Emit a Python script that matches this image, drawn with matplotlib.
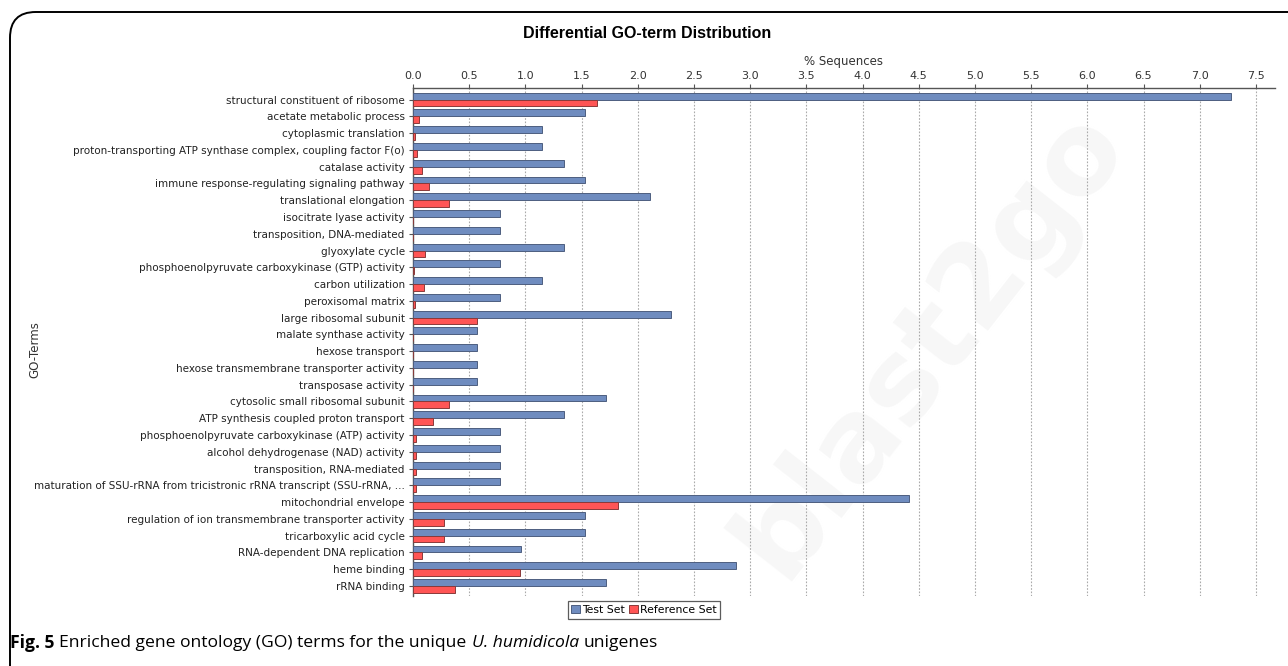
import matplotlib.pyplot as plt
import numpy as np
from matplotlib.patches import FancyBboxPatch

# GO terms, top to bottom
terms = [
    "structural constituent of ribosome",
    "acetate metabolic process",
    "cytoplasmic translation",
    "proton-transporting ATP synthase complex, coupling factor F(o)",
    "catalase activity",
    "immune response-regulating signaling pathway",
    "translational elongation",
    "isocitrate lyase activity",
    "transposition, DNA-mediated",
    "glyoxylate cycle",
    "phosphoenolpyruvate carboxykinase (GTP) activity",
    "carbon utilization",
    "peroxisomal matrix",
    "large ribosomal subunit",
    "malate synthase activity",
    "hexose transport",
    "hexose transmembrane transporter activity",
    "transposase activity",
    "cytosolic small ribosomal subunit",
    "ATP synthesis coupled proton transport",
    "phosphoenolpyruvate carboxykinase (ATP) activity",
    "alcohol dehydrogenase (NAD) activity",
    "transposition, RNA-mediated",
    "maturation of SSU-rRNA from tricistronic rRNA transcript (SSU-rRNA, ...",
    "mitochondrial envelope",
    "regulation of ion transmembrane transporter activity",
    "tricarboxylic acid cycle",
    "RNA-dependent DNA replication",
    "heme binding",
    "rRNA binding",
]

# % sequences
test_set = [7.28, 1.53, 1.15, 1.15, 1.34, 1.53, 2.11, 0.77, 0.77, 1.34,
            0.77, 1.15, 0.77, 2.30, 0.57, 0.57, 0.57, 0.57, 1.72, 1.34,
            0.77, 0.77, 0.77, 0.77, 4.41, 1.53, 1.53, 0.96, 2.87, 1.72]
reference_set = [1.64, 0.05, 0.02, 0.04, 0.08, 0.14, 0.32, 0.004, 0.0, 0.11,
                 0.012, 0.10, 0.02, 0.57, 0.0, 0.0, 0.0, 0.0, 0.32, 0.18,
                 0.025, 0.025, 0.027, 0.025, 1.82, 0.28, 0.28, 0.08, 0.95, 0.37]

x_ticks = np.arange(0, 7.51, 0.5)

W, H = 1288, 666
fig = plt.figure(figsize=(W / 100, H / 100), dpi=100)
fig.patch.set_facecolor("white")

# rounded frame around the figure
frame = FancyBboxPatch((10 / W, -0.2), 1.2, (H - 12) / H + 0.2,
                       boxstyle="round,pad=0,rounding_size=0.02",
                       transform=fig.transFigure, fill=False,
                       edgecolor="black", linewidth=1.4, clip_on=False,
                       mutation_aspect=W / H)
fig.add_artist(frame)

ax = fig.add_axes([413 / W, 1 - 596 / H, (1275 - 413) / W, (596 - 88) / H])

# faint watermark behind the bars
ax.text(0.6, 0.5, "blast2go", rotation=52, ha="center", va="center",
        fontsize=82, color="#f7f7f7", fontweight="bold", zorder=0.5,
        transform=ax.transAxes)

y = np.arange(len(terms))
h = 0.41
ax.barh(y - h / 2, test_set, height=h, color="#6f8cbf", edgecolor="#4d5e80",
        linewidth=0.7, label="Test Set", zorder=3)
ax.barh(y + h / 2, reference_set, height=h, color="#ff5555", edgecolor="#8a3a3a",
        linewidth=0.7, label="Reference Set", zorder=3)

ax.set_ylim(len(terms) - 0.4, -0.69)
ax.set_xlim(0, 7.67)
ax.set_yticks(y)
ax.set_yticklabels(terms, fontsize=7.5, color="#222222", family="DejaVu Sans")
ax.xaxis.tick_top()
ax.xaxis.set_label_position("top")
ax.set_xticks(x_ticks)
ax.set_xticklabels([f"{v:.1f}" for v in x_ticks], fontsize=8, color="#333333")
ax.tick_params(axis="x", length=3, width=0.8, color="#555555", pad=2)
ax.tick_params(axis="y", length=3, width=0.8, color="#555555", pad=3)
ax.grid(axis="x", linestyle=(0, (1.5, 1.5)), color="#aaaaaa", linewidth=0.8, zorder=1)
ax.set_axisbelow(True)
for side in ["right", "bottom"]:
    ax.spines[side].set_visible(False)
for side in ["top", "left"]:
    ax.spines[side].set_color("#555555")
    ax.spines[side].set_linewidth(1.0)

ax.set_xlabel("% Sequences", fontsize=8.5, color="#333333", labelpad=4)
fig.text(35 / W, 1 - 350 / H, "GO-Terms", rotation=90, ha="center", va="center",
         fontsize=8.5, color="#333333")

fig.text(647 / W, 1 - 33 / H, "Differential GO-term Distribution", ha="center",
         va="center", fontsize=11.5, fontweight="bold", family="Liberation Sans")

leg = fig.legend(loc="center", bbox_to_anchor=(644 / W, 1 - 610 / H), ncol=2,
                 fontsize=7.8, frameon=True, fancybox=False, handlelength=0.8,
                 handleheight=0.8, handletextpad=0.2, columnspacing=0.4,
                 borderpad=0.35, edgecolor="#333333")
leg.get_frame().set_linewidth(0.9)

# caption
cap_y = 1 - 643 / H
t1 = fig.text(10 / W, cap_y, "Fig. 5", fontsize=12.6, fontweight="bold",
              family="Open Sans", va="center")
fig.canvas.draw()
bb = t1.get_window_extent()
t2 = fig.text(bb.x1 / W + 5 / W, cap_y, "Enriched gene ontology (GO) terms for the unique",
              fontsize=12.6, family="Open Sans", va="center")
bb = t2.get_window_extent()
t3 = fig.text(bb.x1 / W + 5 / W, cap_y, "U. humidicola", fontsize=12.6, style="italic",
              family="Open Sans", va="center")
bb = t3.get_window_extent()
fig.text(bb.x1 / W + 5 / W, cap_y, "unigenes", fontsize=12.6, family="Open Sans", va="center")

fig.savefig("out.png", dpi=100)
